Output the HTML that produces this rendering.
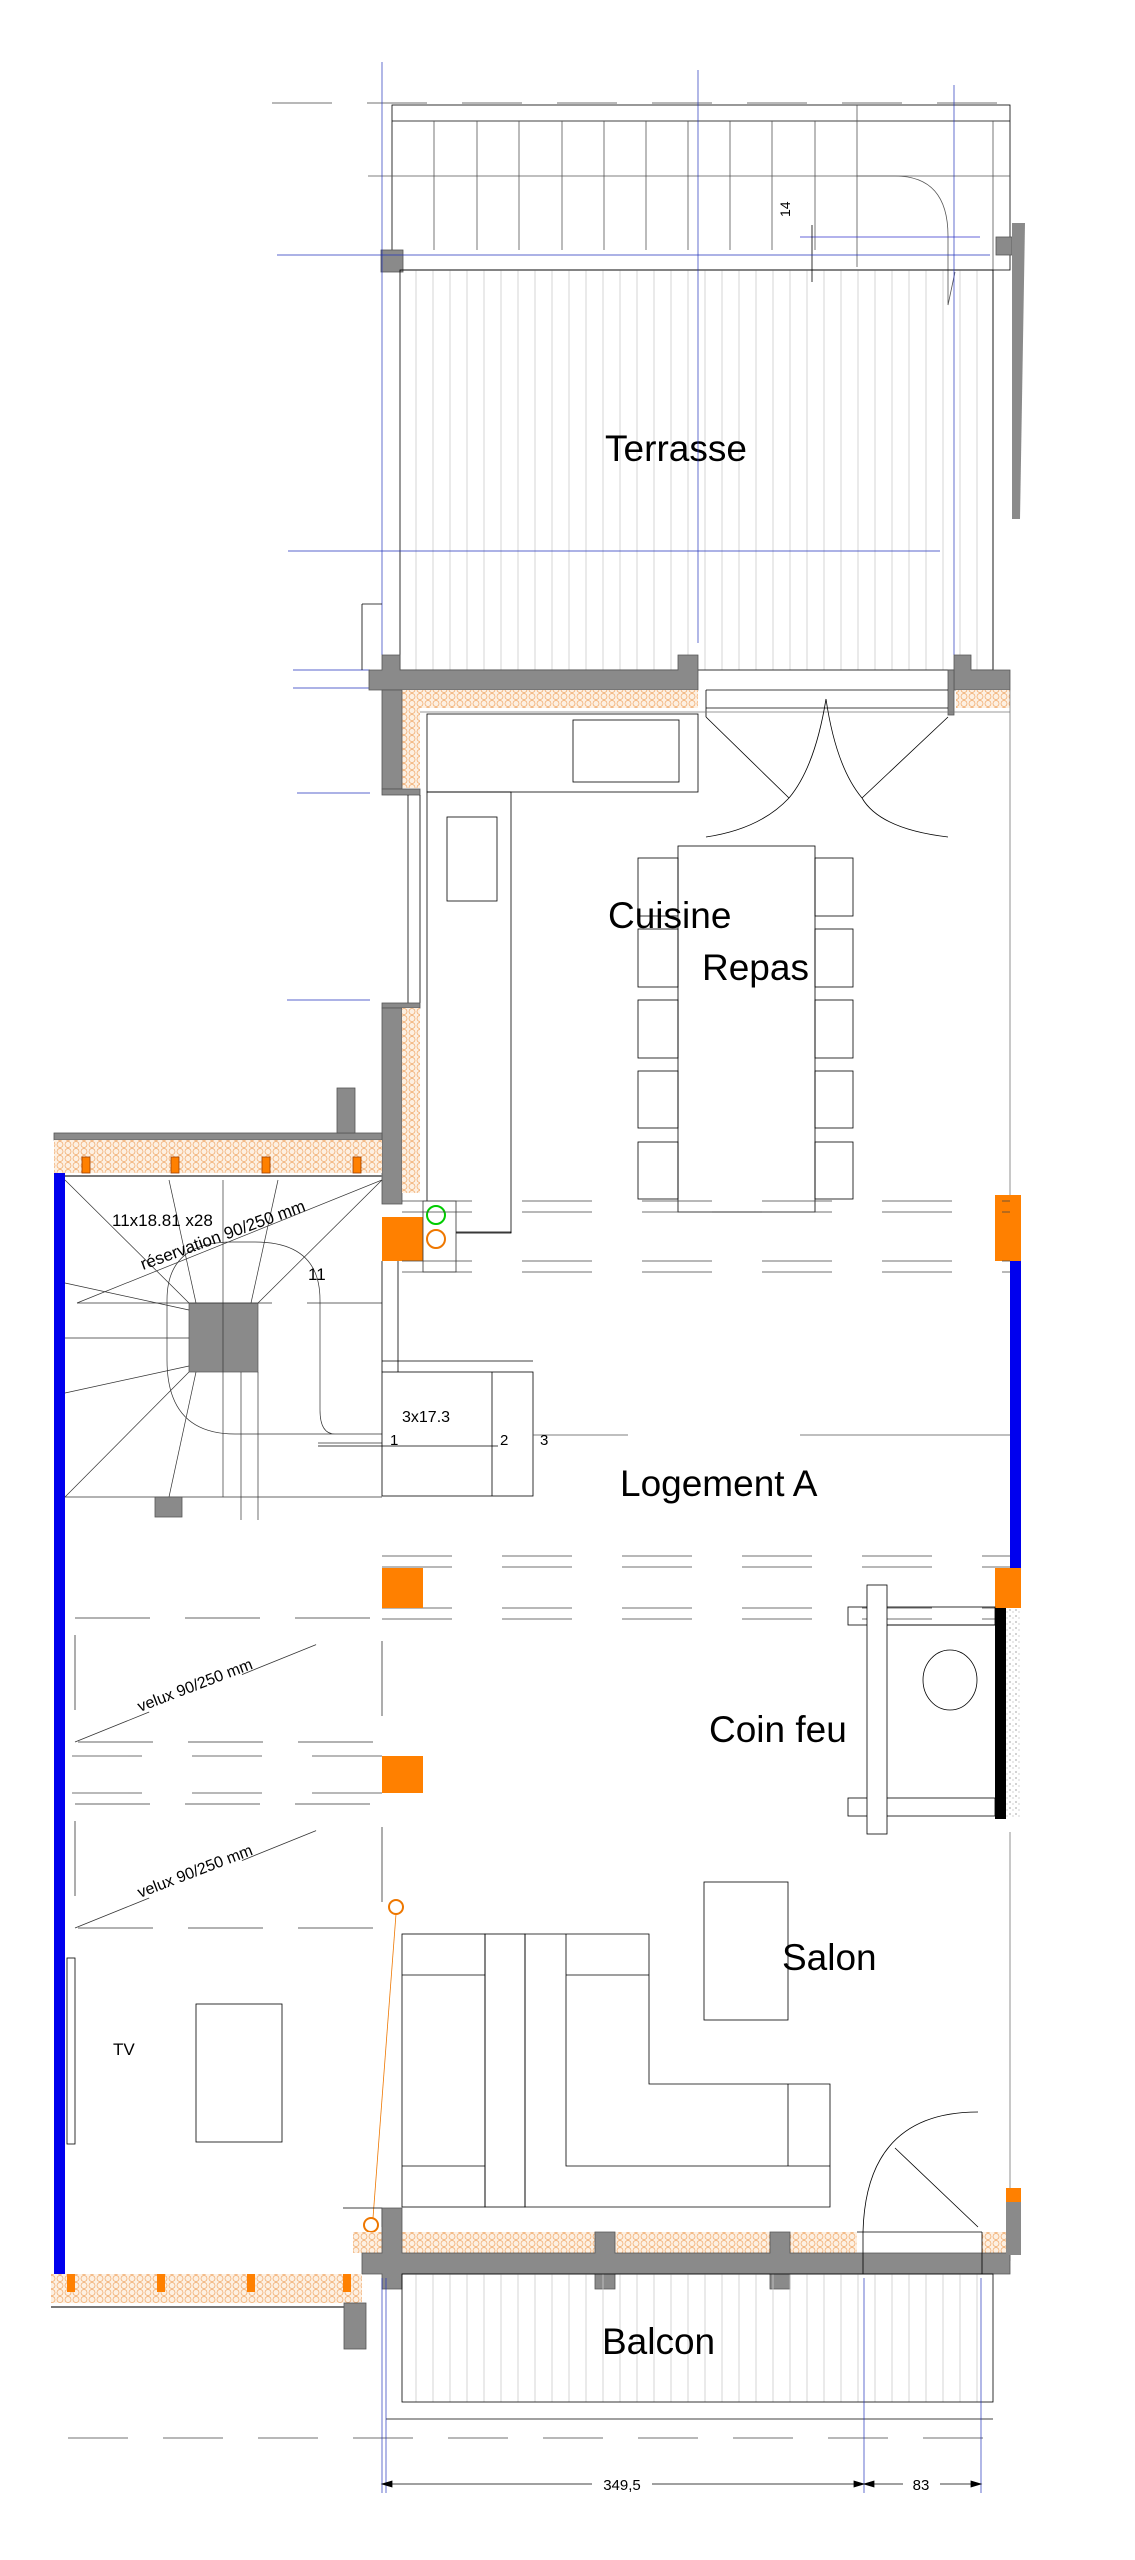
<!DOCTYPE html>
<html><head><meta charset="utf-8"><style>
html,body{margin:0;padding:0;background:#fff}
svg{display:block}
text{font-family:"Liberation Sans",sans-serif;fill:#000}
</style></head><body>
<svg width="1135" height="2560" viewBox="0 0 1135 2560" xmlns="http://www.w3.org/2000/svg">
<defs>
<pattern id="ins" width="8" height="7" patternUnits="userSpaceOnUse">
<rect width="8" height="7" fill="#fdf0e2"/>
<circle cx="4" cy="3.5" r="3" fill="none" stroke="#f0a868" stroke-width="0.7"/>
</pattern>
<pattern id="deck" width="17" height="10" patternUnits="userSpaceOnUse">
<line x1="8" y1="0" x2="8" y2="10" stroke="#ccc" stroke-width="0.8"/>
</pattern>
<pattern id="spk" width="6" height="6" patternUnits="userSpaceOnUse">
<rect width="6" height="6" fill="#fff"/><circle cx="2" cy="2" r="0.6" fill="#666"/><circle cx="5" cy="4" r="0.5" fill="#888"/>
</pattern>
</defs>
<g fill="none" stroke="#000" stroke-width="0.8">
<line x1="272" y1="103" x2="1010" y2="103" stroke="#444" stroke-dasharray="60,35"/>
<!-- top stairs -->
<rect x="392" y="105" width="618" height="165"/>
<line x1="392" y1="121" x2="1010" y2="121"/>
<line x1="368" y1="176" x2="1010" y2="176" stroke="#555"/>
<g stroke="#555">
<line x1="434" y1="121" x2="434" y2="250"/><line x1="477" y1="121" x2="477" y2="250"/><line x1="519" y1="121" x2="519" y2="250"/><line x1="562" y1="121" x2="562" y2="250"/><line x1="604" y1="121" x2="604" y2="250"/><line x1="646" y1="121" x2="646" y2="250"/><line x1="688" y1="121" x2="688" y2="250"/><line x1="730" y1="121" x2="730" y2="250"/><line x1="772" y1="121" x2="772" y2="250"/><line x1="815" y1="121" x2="815" y2="250"/><line x1="857" y1="105" x2="857" y2="267"/>
<line x1="993" y1="121" x2="993" y2="670"/>
<path d="M857 176 H895 Q948 176 948 236 V305 L955 272"/>
</g>
<rect x="381" y="250" width="22" height="22" fill="#8a8a8a" stroke="#555"/>
<rect x="996" y="237" width="16" height="18" fill="#8a8a8a" stroke="#555"/>
<polygon points="1012,223 1025,223 1020,519 1012,519" fill="#8a8a8a" stroke="none"/>
<!-- terrace deck -->
<rect x="400" y="270" width="593" height="400" fill="url(#deck)" stroke="#000"/>
<text x="676" y="461" font-size="37" text-anchor="middle" stroke="none">Terrasse</text>
<line x1="800" y1="237" x2="980" y2="237" stroke="#33c"/>
<line x1="812" y1="225" x2="812" y2="282"/>
<text x="0" y="0" font-size="14" stroke="none" transform="translate(790,217) rotate(-90)">14</text>
<g stroke="#2233bb" stroke-width="0.7">
<line x1="382" y1="62" x2="382" y2="655"/>
<line x1="698" y1="70" x2="698" y2="643"/>
<line x1="954" y1="85" x2="954" y2="655"/>
<line x1="277" y1="255" x2="990" y2="255"/>
<line x1="288" y1="551" x2="940" y2="551"/>
<line x1="293" y1="670" x2="370" y2="670"/>
<line x1="293" y1="688" x2="370" y2="688"/>
<line x1="297" y1="793" x2="370" y2="793"/>
<line x1="287" y1="1000" x2="370" y2="1000"/>
</g>
<line x1="362" y1="604" x2="382" y2="604"/><line x1="362" y1="604" x2="362" y2="670"/>
<!-- top wall -->
<path d="M369 670 H382 V655 H400 V670 H678 V655 H698 V690 H369 Z" fill="#8a8a8a" stroke="#555"/>
<path d="M954 655 H971 V670 H1010 V690 H954 Z" fill="#8a8a8a" stroke="#555"/>
<rect x="948" y="670" width="6" height="45" fill="#8a8a8a" stroke="#555"/>
<rect x="402" y="690" width="296" height="18" fill="url(#ins)" stroke="none"/>
<rect x="956" y="690" width="54" height="18" fill="url(#ins)" stroke="none"/>
<rect x="402" y="708" width="18" height="80" fill="url(#ins)" stroke="none"/>
<rect x="382" y="690" width="20" height="99" fill="#8a8a8a" stroke="#555"/>
<rect x="382" y="789" width="38" height="6" fill="#8a8a8a" stroke="#555"/>
<line x1="706" y1="690" x2="948" y2="690"/><line x1="706" y1="708" x2="948" y2="708"/>
<line x1="706" y1="690" x2="706" y2="717"/>
<line x1="420" y1="712" x2="1010" y2="712" stroke="#777"/>
<line x1="408" y1="795" x2="408" y2="1003"/><line x1="420" y1="795" x2="420" y2="1003"/>
<rect x="382" y="1003" width="38" height="5" fill="#8a8a8a" stroke="#555"/>
<rect x="382" y="1008" width="20" height="196" fill="#8a8a8a" stroke="#555"/>
<rect x="402" y="1008" width="18" height="185" fill="url(#ins)" stroke="none"/>
<!-- kitchen -->
<rect x="427" y="714" width="271" height="78"/>
<rect x="573" y="720" width="106" height="62"/>
<rect x="427" y="792" width="84" height="441"/>
<rect x="447" y="817" width="50" height="84"/>
<!-- double doors -->
<path d="M706 717 L789 798 M706 837 Q760 829 789 798"/>
<path d="M948 717 L862 798 M948 837 Q880 829 862 798"/>
<path d="M826 699 Q815 767 789 798 M826 699 Q836 767 862 798"/>
<!-- table & chairs -->
<rect x="678" y="846" width="137" height="366"/>
<rect x="638" y="858" width="40" height="58"/><rect x="638" y="929" width="40" height="58"/><rect x="638" y="1000" width="40" height="58"/><rect x="638" y="1071" width="40" height="57"/><rect x="638" y="1142" width="40" height="57"/>
<rect x="815" y="858" width="38" height="58"/><rect x="815" y="929" width="38" height="58"/><rect x="815" y="1000" width="38" height="58"/><rect x="815" y="1071" width="38" height="57"/><rect x="815" y="1142" width="38" height="57"/>
<text x="608" y="928" font-size="37" stroke="none">Cuisine</text>
<text x="702" y="980" font-size="37" stroke="none">Repas</text>
<line x1="1010" y1="690" x2="1010" y2="1195" stroke="#777"/>
<line x1="1010" y1="1832" x2="1010" y2="2261" stroke="#777"/>
<!-- left block top wall -->
<rect x="54" y="1133" width="328" height="7" fill="#8a8a8a" stroke="#555"/>
<rect x="337" y="1088" width="18" height="45" fill="#8a8a8a" stroke="#555"/>
<rect x="54" y="1140" width="328" height="33" fill="url(#ins)" stroke="none"/>
<g fill="#ff8000" stroke="#a04000"><rect x="82" y="1157" width="8" height="16"/><rect x="171" y="1157" width="8" height="16"/><rect x="262" y="1157" width="8" height="16"/><rect x="353" y="1157" width="8" height="16"/></g>
<line x1="54" y1="1176" x2="382" y2="1176" stroke-width="2" stroke="#777"/>
<rect x="54" y="1173" width="11" height="1102" fill="#0000ee" stroke="none"/>
<!-- stair -->
<g stroke="#333" stroke-width="0.7">
<rect x="189" y="1303" width="69" height="69" fill="#8a8a8a" stroke="#555"/>
<line x1="65" y1="1180" x2="189" y2="1303"/><line x1="169" y1="1180" x2="196" y2="1303"/><line x1="223" y1="1180" x2="223" y2="1497"/><line x1="278" y1="1180" x2="251" y2="1303"/><line x1="382" y1="1180" x2="258" y2="1303"/>
<line x1="65" y1="1283" x2="189" y2="1310"/><line x1="65" y1="1338" x2="189" y2="1338"/><line x1="65" y1="1393" x2="189" y2="1366"/><line x1="65" y1="1497" x2="189" y2="1372"/><line x1="169" y1="1497" x2="196" y2="1372"/>
<line x1="241" y1="1372" x2="241" y2="1520"/><line x1="258" y1="1372" x2="258" y2="1520"/>
<line x1="65" y1="1497" x2="382" y2="1497"/>
<line x1="77" y1="1303" x2="272" y2="1303"/><line x1="307" y1="1303" x2="382" y2="1303"/>
<line x1="77" y1="1303" x2="382" y2="1180"/>
<path d="M335 1434 Q320 1434 320 1410 V1300 Q320 1242 255 1242 H232 Q167 1242 167 1300 V1360 Q167 1434 235 1434 H382"/>
<line x1="318" y1="1443" x2="382" y2="1443"/>
</g>
<rect x="155" y="1497" width="27" height="20" fill="#8a8a8a" stroke="#555"/>
<text x="112" y="1226" font-size="17" stroke="none">11x18.81 x28</text>
<text x="0" y="0" font-size="17" stroke="none" transform="translate(143,1270) rotate(-20)">réservation 90/250 mm</text>
<text x="308" y="1280" font-size="17" stroke="none">11</text>
<!-- 3 step block -->
<rect x="382" y="1372" width="151" height="124"/>
<line x1="382" y1="1361" x2="533" y2="1361"/>
<line x1="492" y1="1372" x2="492" y2="1496"/>
<line x1="318" y1="1446" x2="498" y2="1446"/>
<line x1="382" y1="1261" x2="382" y2="1372"/><line x1="398" y1="1261" x2="398" y2="1372"/>
<line x1="533" y1="1435" x2="628" y2="1435" stroke="#555"/>
<line x1="800" y1="1435" x2="1010" y2="1435" stroke="#555"/>
<text x="402" y="1422" font-size="16" stroke="none">3x17.3</text>
<text x="390" y="1445" font-size="15" stroke="none">1</text>
<text x="500" y="1445" font-size="15" stroke="none">2</text>
<text x="540" y="1445" font-size="15" stroke="none">3</text>
<text x="620" y="1496" font-size="37" stroke="none">Logement A</text>
<!-- orange columns -->
<rect x="382" y="1217" width="41" height="44" fill="#ff8000" stroke="none"/>
<rect x="423" y="1201" width="33" height="71" fill="#fff" stroke="#333"/>
<circle cx="436" cy="1215" r="9" stroke="#00cc00" stroke-width="2"/>
<circle cx="436" cy="1239" r="9" stroke="#ee7700" stroke-width="2"/>
<path d="M456 1232 H511 V1233"/>
<rect x="995" y="1195" width="26" height="66" fill="#ff8000" stroke="none"/>
<rect x="1010" y="1261" width="11" height="347" fill="#0000ee" stroke="none"/>
<g stroke="#444" stroke-dasharray="70,50">
<line x1="402" y1="1201" x2="1010" y2="1201"/><line x1="402" y1="1212" x2="1010" y2="1212"/>
<line x1="402" y1="1261" x2="1010" y2="1261"/><line x1="402" y1="1272" x2="1010" y2="1272"/>
<line x1="382" y1="1556" x2="1010" y2="1556"/><line x1="382" y1="1567" x2="1010" y2="1567"/>
<line x1="382" y1="1608" x2="1010" y2="1608"/><line x1="382" y1="1619" x2="1010" y2="1619"/>
<line x1="72" y1="1756" x2="382" y2="1756"/><line x1="72" y1="1793" x2="382" y2="1793"/>
</g>
<rect x="382" y="1568" width="41" height="40" fill="#ff8000" stroke="none"/>
<rect x="382" y="1756" width="41" height="37" fill="#ff8000" stroke="none"/>
<rect x="995" y="1568" width="26" height="40" fill="#ff8000" stroke="none"/>
<!-- velux -->
<g stroke="#333" stroke-dasharray="75,35">
<rect x="75" y="1618" width="307" height="124"/>
<rect x="75" y="1804" width="307" height="124"/>
</g>
<line x1="75" y1="1742" x2="382" y2="1618" stroke="#333" stroke-dasharray="80,100"/>
<line x1="75" y1="1928" x2="382" y2="1804" stroke="#333" stroke-dasharray="80,100"/>
<text x="0" y="0" font-size="16" stroke="none" transform="translate(140,1712) rotate(-21)">velux 90/250 mm</text>
<text x="0" y="0" font-size="16" stroke="none" transform="translate(140,1898) rotate(-21)">velux 90/250 mm</text>
<!-- fireplace -->
<rect x="848" y="1607" width="147" height="18"/>
<rect x="848" y="1798" width="147" height="18"/>
<line x1="887" y1="1625" x2="995" y2="1625"/>
<rect x="867" y="1585" width="20" height="249" fill="#fff"/>
<ellipse cx="950" cy="1680" rx="27" ry="30"/>
<rect x="995" y="1608" width="11" height="211" fill="#000" stroke="none"/>
<rect x="1006" y="1608" width="15" height="211" fill="url(#spk)" stroke="none"/>
<text x="709" y="1742" font-size="37" stroke="none">Coin feu</text>
<!-- salon -->
<rect x="704" y="1882" width="84" height="138"/>
<text x="782" y="1970" font-size="37" stroke="none">Salon</text>
<rect x="402" y="1934" width="83" height="273"/>
<line x1="402" y1="1975" x2="485" y2="1975"/><line x1="402" y1="2166" x2="485" y2="2166"/>
<rect x="485" y="1934" width="40" height="273"/>
<path d="M525 1934 H649 V2084 H830 V2207 H525 Z"/>
<path d="M566 1934 V2166 H830 M566 1975 H649 M788 2084 V2166"/>
<rect x="196" y="2004" width="86" height="138"/>
<rect x="67" y="1958" width="8" height="186"/>
<text x="113" y="2055" font-size="17" stroke="none">TV</text>
<circle cx="396" cy="1907" r="7" stroke="#ee7700" stroke-width="2"/>
<circle cx="371" cy="2225" r="7" stroke="#ee7700" stroke-width="2"/>
<line x1="396" y1="1914" x2="373" y2="2218" stroke="#ee7700" stroke-width="0.8"/>
<!-- bottom wall -->
<path d="M343 2208 H382 V2227"/>
<rect x="353" y="2232" width="40" height="21" fill="url(#ins)" stroke="none"/>
<rect x="402" y="2232" width="455" height="21" fill="url(#ins)" stroke="none"/>
<rect x="982" y="2232" width="28" height="21" fill="url(#ins)" stroke="none"/>
<path d="M382 2208 H402 V2253 H595 V2232 H615 V2253 H770 V2232 H790 V2253 H1010 V2274 H790 V2289 H770 V2274 H615 V2289 H595 V2274 H402 V2289 H382 V2274 H362 V2253 H382 Z" fill="#8a8a8a" stroke="#555"/>
<rect x="1006" y="2193" width="15" height="62" fill="#8a8a8a" stroke="none"/>
<rect x="1006" y="2188" width="15" height="14" fill="#ff8000" stroke="none"/>
<rect x="51" y="2274" width="311" height="29" fill="url(#ins)" stroke="none"/>
<g fill="#ff8000" stroke="none"><rect x="67" y="2274" width="8" height="18"/><rect x="157" y="2274" width="8" height="18"/><rect x="247" y="2274" width="8" height="18"/><rect x="343" y="2274" width="8" height="18"/></g>
<line x1="51" y1="2307" x2="362" y2="2307" stroke-width="2" stroke="#777"/>
<rect x="344" y="2303" width="22" height="46" fill="#8a8a8a" stroke="#555"/>
<!-- balcony door -->
<path d="M978 2112 Q866 2112 863 2232 M895 2148 L978 2227"/>
<line x1="857" y1="2232" x2="982" y2="2232"/>
<line x1="863" y1="2232" x2="863" y2="2274"/><line x1="982" y1="2232" x2="982" y2="2274"/>
<!-- balcony -->
<rect x="402" y="2274" width="591" height="128" fill="url(#deck)" stroke="#000"/>
<text x="602" y="2354" font-size="37" stroke="none">Balcon</text>
<line x1="386" y1="2419" x2="993" y2="2419"/>
<line x1="68" y1="2438" x2="990" y2="2438" stroke="#444" stroke-dasharray="60,35"/>
<g stroke="#2233bb" stroke-width="0.7">
<line x1="382" y1="2278" x2="382" y2="2493"/><line x1="386" y1="2278" x2="386" y2="2493"/>
<line x1="864" y1="2278" x2="864" y2="2493"/><line x1="981" y1="2278" x2="981" y2="2493"/>
</g>
<line x1="382" y1="2484" x2="592" y2="2484"/><line x1="652" y1="2484" x2="864" y2="2484"/>
<line x1="864" y1="2484" x2="903" y2="2484"/><line x1="940" y1="2484" x2="981" y2="2484"/>
<path d="M382 2484 l10 -3 v6 z M864 2484 l-10 -3 v6 z M864 2484 l10 -3 v6 z M981 2484 l-10 -3 v6 z" fill="#000"/>
<text x="622" y="2490" font-size="15" text-anchor="middle" stroke="none">349,5</text>
<text x="921" y="2490" font-size="15" text-anchor="middle" stroke="none">83</text>
</g>
</svg>
</body></html>
